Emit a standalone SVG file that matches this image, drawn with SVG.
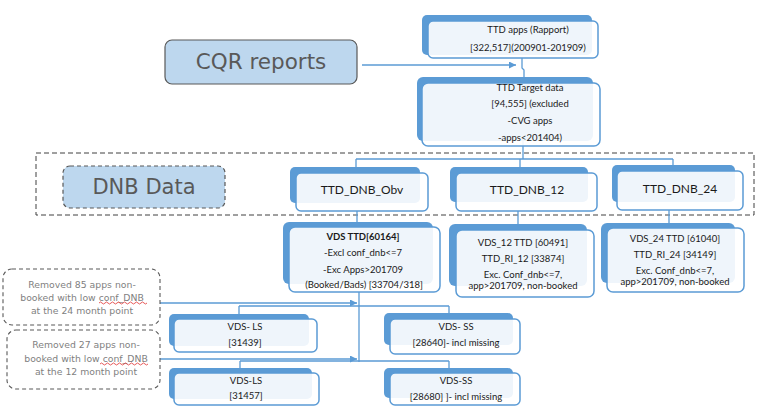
<svg xmlns="http://www.w3.org/2000/svg" width="771" height="415" viewBox="0 0 771 415">
<defs>
<marker id="arr" viewBox="0 0 10 10" refX="10" refY="5" markerWidth="7" markerHeight="7" markerUnits="userSpaceOnUse" orient="auto"><path d="M0,0 L10,5 L0,10 z" fill="#5b9bd5"/></marker>
<style>
.bk{fill:#5b9bd5;}
.fr{fill:#ffffff;fill-opacity:0.9;stroke:#5b9bd5;stroke-width:1.5;}
.t{font-family:Lato,"Liberation Sans",sans-serif;font-size:9.5px;fill:#1a1a1a;text-anchor:middle;}
.h{font-family:Lato,"Liberation Sans",sans-serif;font-size:12px;fill:#1a1a1a;text-anchor:middle;}
.big{font-family:"DejaVu Sans",Verdana,sans-serif;fill:#595959;text-anchor:middle;}
.note{font-family:"DejaVu Sans",Verdana,sans-serif;font-size:9.3px;fill:#7f7f7f;text-anchor:middle;}
.ln{fill:none;stroke:#5b9bd5;stroke-width:1.3;}
.sq{fill:none;stroke:#e03030;stroke-width:0.8;}
</style>
</defs>
<rect width="771" height="415" fill="#ffffff"/>

<g id="dnb-frame"><rect x="36" y="153" width="718" height="62" fill="none" stroke="#404040" stroke-width="1" stroke-dasharray="5,3"/></g>

<g id="cqr"><rect x="165" y="40" width="192" height="44" rx="7" fill="#bdd7ee" stroke="#595959" stroke-width="1.2"/><text class="big" x="261" y="69" font-size="21.5">CQR reports</text></g>

<g id="dnbdata"><rect x="63" y="166" width="162" height="42" rx="7" fill="#bdd7ee" stroke="#595959" stroke-width="1.2" stroke-dasharray="4,3"/><text class="big" x="144" y="194" font-size="21">DNB Data</text></g>

<g id="connectors">
<path class="ln" d="M362,65 H516" marker-end="url(#arr)"/>
<path class="ln" d="M522,58 V68 L524,70 V77"/>
<path class="ln" d="M523,141 V159 M356,159 H673 M356,159 V167 M520,159 V167 M673,159 V165"/>
<path class="ln" d="M357,211 V223 M518,211 V224 M669,210 V223"/>
<path class="ln" d="M359,292 V362 M239,306 H449 M239,306 V314 M449,306 V313 M240,361 H449 M240,361 V368 M449,361 V368"/>
<path class="ln" d="M160,303 H357" marker-end="url(#arr)"/>
<path class="ln" d="M160,359 H357" marker-end="url(#arr)"/>
</g>

<g id="ttd-apps"><rect class="bk" x="422" y="15" width="170" height="40" rx="5"/><rect class="fr" x="428" y="21" width="170" height="37" rx="5"/><text class="t" x="528" y="33">TTD apps (Rapport)</text><text class="t" x="528" y="51">[322,517](200901-201909)</text></g>

<g id="ttd-target"><rect class="bk" x="417" y="77" width="176" height="64" rx="6"/><rect class="fr" x="422" y="83" width="178" height="63" rx="6"/><text class="t" x="530" y="91">TTD Target data</text><text class="t" x="530" y="107">[94,555] (excluded</text><text class="t" x="530" y="124">-CVG apps</text><text class="t" x="530" y="141">-apps&lt;201404)</text></g>

<g id="dnb-obv"><rect class="bk" x="290" y="167" width="130" height="36" rx="5"/><rect class="fr" x="296" y="173" width="132" height="38" rx="5"/><text class="h" x="362" y="194">TTD_DNB_Obv</text></g>

<g id="dnb-12"><rect class="bk" x="450" y="167" width="138" height="35" rx="5"/><rect class="fr" x="456" y="173" width="141" height="38" rx="5"/><text class="h" x="527" y="194">TTD_DNB_12</text></g>

<g id="dnb-24"><rect class="bk" x="612" y="165" width="123" height="37" rx="5"/><rect class="fr" x="617" y="171" width="126" height="39" rx="5"/><text class="h" x="680" y="193">TTD_DNB_24</text></g>

<g id="vds-ttd"><rect class="bk" x="283" y="222" width="150" height="62" rx="6"/><rect class="fr" x="289" y="227" width="151" height="65" rx="6"/><text class="t" x="363" y="240" font-weight="bold">VDS TTD[60164]</text><text class="t" x="363" y="256">-Excl conf_dnb&lt;=7</text><text class="t" x="363" y="273">-Exc Apps&gt;201709</text><text class="t" x="364" y="288">(Booked/Bads) [33704/318]</text></g>

<g id="vds-12"><rect class="bk" x="449" y="224" width="138" height="62" rx="6"/><rect class="fr" x="456" y="230" width="138" height="67" rx="6"/><text class="t" x="523" y="246">VDS_12 TTD [60491]</text><text class="t" x="523" y="262">TTD_RI_12 [33874]</text><text class="t" x="523" y="278">Exc. Conf_dnb&lt;=7,</text><text class="t" x="523" y="289">app&gt;201709, non-booked</text></g>

<g id="vds-24"><rect class="bk" x="601" y="223" width="134" height="60" rx="6"/><rect class="fr" x="607" y="228" width="137" height="64" rx="6"/><text class="t" x="675" y="242">VDS_24 TTD [61040]</text><text class="t" x="675" y="258">TTD_RI_24 [34149]</text><text class="t" x="675" y="274">Exc. Conf_dnb&lt;=7,</text><text class="t" x="675" y="285">app&gt;201709, non-booked</text></g>

<g id="note-24"><rect x="3" y="269" width="157" height="56" rx="9" fill="#ffffff" stroke="#595959" stroke-width="1.1" stroke-dasharray="4,3"/><text class="note" x="82" y="288">Removed 85 apps non-</text><text class="note" x="82" y="301">booked with low conf_DNB</text><text class="note" x="82" y="314">at the 24 month point</text><path class="sq" d="M99,303 q1.5,-2 3,0 t3,0 t3,0 t3,0 t3,0 t3,0 t3,0 t3,0 t3,0 t3,0 t3,0 t3,0 t3,0 t3,0 t3,0 t3,0"/></g>

<g id="note-12"><rect x="7" y="330" width="153" height="59" rx="9" fill="#ffffff" stroke="#595959" stroke-width="1.1" stroke-dasharray="4,3"/><text class="note" x="86" y="348">Removed 27 apps non-</text><text class="note" x="86" y="362">booked with low conf_DNB</text><text class="note" x="86" y="375">at the 12 month point</text><path class="sq" d="M100,364 q1.5,-2 3,0 t3,0 t3,0 t3,0 t3,0 t3,0 t3,0 t3,0 t3,0 t3,0 t3,0 t3,0 t3,0 t3,0 t3,0 t3,0"/></g>

<g id="vds-ls-24"><rect class="bk" x="169" y="314" width="140" height="32" rx="5"/><rect class="fr" x="174" y="319" width="143" height="33" rx="5"/><text class="t" x="245" y="330">VDS- LS</text><text class="t" x="245" y="346">[31439]</text></g>

<g id="vds-ss-24"><rect class="bk" x="384" y="313" width="129" height="32" rx="5"/><rect class="fr" x="390" y="319" width="130" height="35" rx="5"/><text class="t" x="456" y="330">VDS- SS</text><text class="t" x="456" y="346">[28640]- incl missing</text></g>

<g id="vds-ls-12"><rect class="bk" x="169" y="368" width="143" height="31" rx="5"/><rect class="fr" x="174" y="373" width="145" height="32" rx="5"/><text class="t" x="246" y="384">VDS-LS</text><text class="t" x="246" y="399">[31457]</text></g>

<g id="vds-ss-12"><rect class="bk" x="384" y="368" width="129" height="30" rx="5"/><rect class="fr" x="390" y="373" width="130" height="32" rx="5"/><text class="t" x="456" y="384">VDS-SS</text><text class="t" x="456" y="400">[28680] ]- incl missing</text></g>
</svg>
